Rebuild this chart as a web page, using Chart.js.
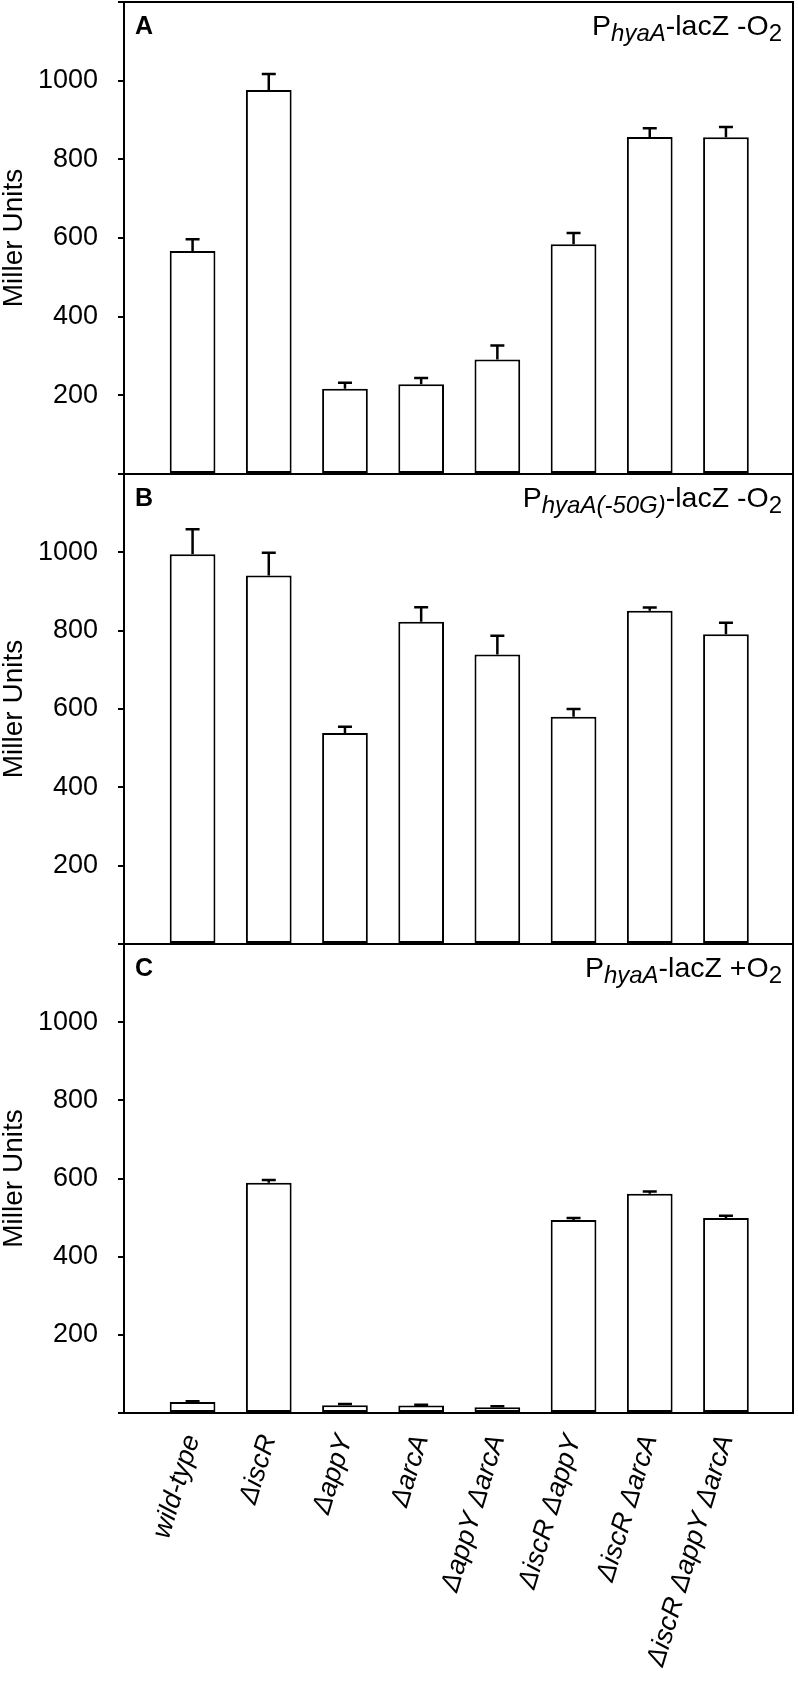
<!DOCTYPE html>
<html>
<head>
<meta charset="utf-8">
<script src="https://cdn.jsdelivr.net/npm/chart.js@4/dist/chart.umd.min.js"></script>
<style>
    body { margin: 0; background: #fff; }
    #page { position: relative; width: 798px; height: 1686px; overflow: hidden; }
    .panel { position: absolute; left: 0; }
</style>
</head>
<body>
<div id="page">
    <div class="panel" style="top:0px"><canvas id="chartA" width="798" height="476"></canvas></div>
    <div class="panel" style="top:472px"><canvas id="chartB" width="798" height="474"></canvas></div>
    <div class="panel" style="top:942px"><canvas id="chartC" width="798" height="744"></canvas></div>
</div>
<script>
// Strains (x categories)
const strains = ['wild-type', 'ΔiscR', 'ΔappY', 'ΔarcA', 'ΔappY ΔarcA', 'ΔiscR ΔappY', 'ΔiscR ΔarcA', 'ΔiscR ΔappY ΔarcA'];

// Panel A: PhyaA-lacZ -O2
const panelAValues = [567, 976, 217, 228, 291, 584, 857, 856];
const panelAErrors = [30, 41, 15, 16, 36, 29, 22, 26];

// Panel B: PhyaA(-50G)-lacZ -O2
const panelBValues = [995, 941, 539, 823, 739, 580, 851, 791];
const panelBErrors = [64, 58, 16, 37, 48, 20, 8, 29];

// Panel C: PhyaA-lacZ +O2
const panelCValues = [28, 589, 20, 19, 15, 494, 561, 499];
const panelCErrors = [2, 7, 3, 2, 2, 5, 6, 6];

// Y axis
const yTickLabels = [200, 400, 600, 800, 1000];
const yMin = 0;
const yMax = 1200;

const FONT = "'Liberation Sans', Arial, Helvetica, sans-serif";

document.addEventListener('DOMContentLoaded', function() {
    makePanel('chartA', panelAValues, panelAErrors, 'A', 'hyaA', '-lacZ -O', false);
    makePanel('chartB', panelBValues, panelBErrors, 'B', 'hyaA(-50G)', '-lacZ -O', false);
    makePanel('chartC', panelCValues, panelCErrors, 'C', 'hyaA', '-lacZ +O', true);
});

// Box around the plot area
const framePlugin = {
    id: 'frame',
    afterDraw(chart) {
        const a = chart.chartArea;
        const ctx = chart.ctx;
        ctx.save();
        ctx.strokeStyle = '#000';
        ctx.lineWidth = 2;
        ctx.strokeRect(a.left, a.top, a.right - a.left, a.bottom - a.top);
        ctx.restore();
    }
};

// Upper error bars with a cap
const errorBarPlugin = {
    id: 'errorBars',
    afterDatasetsDraw(chart) {
        const ds = chart.data.datasets[0];
        const xs = chart.scales.x;
        const ys = chart.scales.y;
        const ctx = chart.ctx;
        ctx.save();
        ctx.strokeStyle = '#000';
        ctx.lineWidth = 2.5;
        ds.data.forEach((pt, i) => {
            const err = ds.errors[i];
            const px = xs.getPixelForValue(pt.x);
            const base = ys.getPixelForValue(pt.y);
            const top = ys.getPixelForValue(pt.y + err);
            ctx.beginPath();
            ctx.moveTo(px, base);
            ctx.lineTo(px, top);
            ctx.moveTo(px - 7, top);
            ctx.lineTo(px + 7, top);
            ctx.stroke();
        });
        ctx.restore();
    }
};

// Panel letter and reporter label
const panelTextPlugin = {
    id: 'panelText',
    afterDraw(chart) {
        const info = chart.config._config.panelInfo;
        const a = chart.chartArea;
        const ctx = chart.ctx;
        const baseY = a.top + 33;
        ctx.save();
        ctx.fillStyle = '#000';
        ctx.textBaseline = 'alphabetic';
        ctx.textAlign = 'left';

        ctx.font = 'bold 25px ' + FONT;
        ctx.fillText(info.letter, a.left + 11, baseY - 1);

        // P<sub>gene</sub>-lacZ -O<sub>2</sub>, right aligned
        const bigFont = '28.5px ' + FONT;
        const subItalic = 'italic 24px ' + FONT;
        const subFont = '24px ' + FONT;
        ctx.font = bigFont;
        const wP = ctx.measureText('P').width;
        const wTail = ctx.measureText(info.tail).width;
        ctx.font = subItalic;
        const wSub = ctx.measureText(info.sub).width;
        ctx.font = subFont;
        const w2 = ctx.measureText('2').width;
        let x = a.right - 11 - (wP + wSub + wTail + w2);

        ctx.font = bigFont;
        ctx.fillText('P', x, baseY);
        x += wP;
        ctx.font = subItalic;
        ctx.fillText(info.sub, x, baseY + 6);
        x += wSub;
        ctx.font = bigFont;
        ctx.fillText(info.tail, x, baseY);
        x += wTail;
        ctx.font = subFont;
        ctx.fillText('2', x, baseY + 6);
        ctx.restore();
    }
};

function makePanel(canvasId, values, errors, letter, sub, tail, showLabels) {
    const ctx = document.getElementById(canvasId);
    new Chart(ctx, {
        type: 'bar',
        panelInfo: { letter: letter, sub: sub, tail: tail },
        data: {
            datasets: [{
                data: values.map((v, i) => ({ x: i, y: v })),
                errors: errors,
                backgroundColor: '#ffffff',
                borderColor: '#000000',
                borderWidth: 2,
                borderSkipped: false,
                barPercentage: 0.6,
                categoryPercentage: 1.0
            }]
        },
        options: {
            responsive: false,
            animation: false,
            layout: {
                padding: { top: 2, bottom: showLabels ? 0 : 2, left: 0, right: 5 }
            },
            plugins: {
                legend: { display: false },
                tooltip: { enabled: false }
            },
            scales: {
                x: {
                    type: 'linear',
                    offset: false,
                    min: -0.9,
                    max: 7.88,
                    border: { display: false },
                    grid: { display: false, drawTicks: false, offset: false },
                    afterBuildTicks: function(scale) {
                        scale.ticks = strains.map((s, i) => ({ value: i }));
                    },
                    afterFit: function(scale) {
                        scale.height = showLabels ? 273 : 0;
                        scale.paddingLeft = 0;
                        scale.paddingRight = 0;
                    },
                    ticks: {
                        display: showLabels,
                        autoSkip: false,
                        minRotation: 73,
                        maxRotation: 73,
                        padding: 18,
                        color: '#000',
                        font: { family: FONT, size: 27, style: 'italic' },
                        callback: function(value) {
                            return strains[value] || '';
                        }
                    }
                },
                y: {
                    min: yMin,
                    max: yMax,
                    border: { display: true, color: '#000', width: 2 },
                    grid: {
                        drawOnChartArea: false,
                        drawTicks: true,
                        tickLength: 6,
                        color: '#000',
                        lineWidth: 2
                    },
                    afterBuildTicks: function(scale) {
                        const t = [];
                        for (let v = yMin; v <= yMax; v += 200) t.push({ value: v });
                        scale.ticks = t;
                    },
                    afterFit: function(scale) {
                        scale.width = 124;
                        scale.paddingTop = 0;
                        scale.paddingBottom = 0;
                    },
                    ticks: {
                        padding: 20,
                        color: '#000',
                        font: { family: FONT, size: 27 },
                        callback: function(value) {
                            return yTickLabels.includes(value) ? String(value) : '';
                        }
                    },
                    title: {
                        display: true,
                        text: 'Miller Units',
                        color: '#000',
                        padding: 0,
                        font: { family: FONT, size: 28, lineHeight: 1 }
                    }
                }
            }
        },
        plugins: [framePlugin, errorBarPlugin, panelTextPlugin]
    });
}
</script>
</body>
</html>
